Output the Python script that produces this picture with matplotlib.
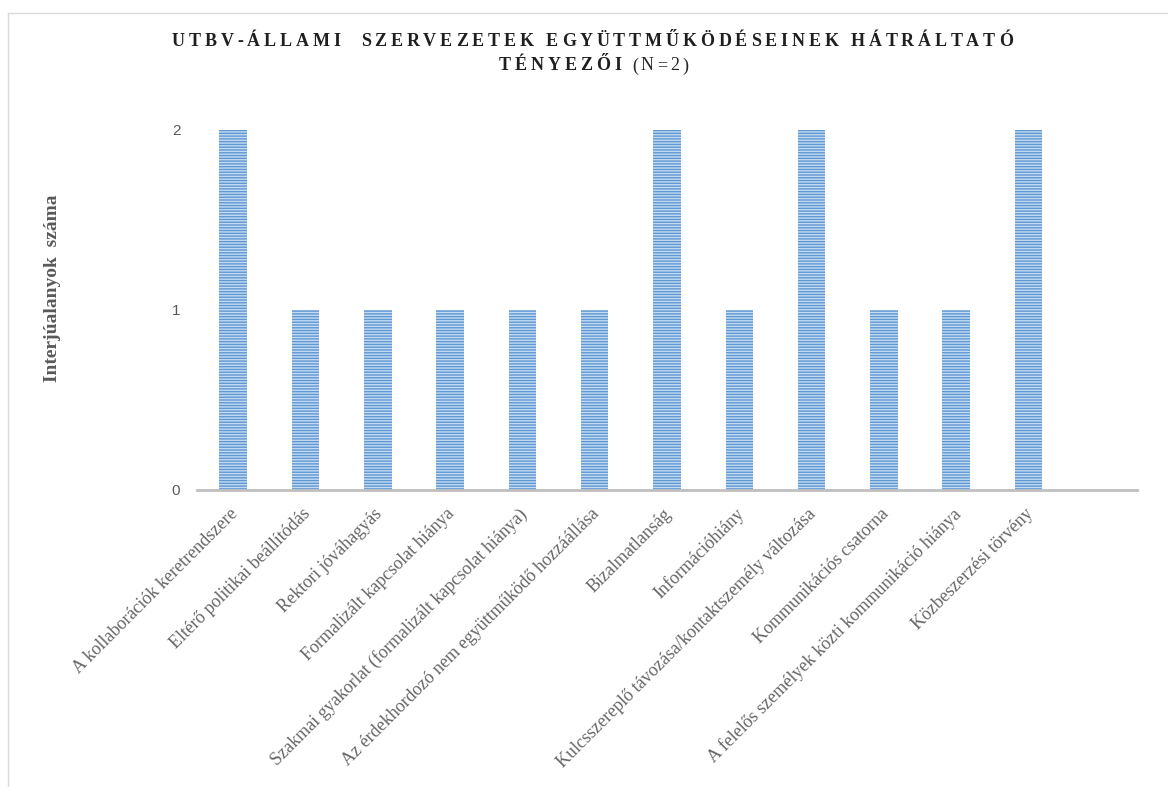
import matplotlib
matplotlib.use("Agg")
import matplotlib.pyplot as plt
from matplotlib.lines import Line2D
from matplotlib.transforms import ScaledTranslation

categories = [
    "A kollaborációk keretrendszere",
    "Eltérő politikai beállítódás",
    "Rektori jóváhagyás",
    "Formalizált kapcsolat hiánya",
    "Szakmai gyakorlat (formalizált kapcsolat hiánya)",
    "Az érdekhordozó nem együttműködő hozzáállása",
    "Bizalmatlanság",
    "Információhiány",
    "Kulcsszereplő távozása/kontaktszemély változása",
    "Kommunikációs csatorna",
    "A felelős személyek közti kommunikáció hiánya",
    "Közbeszerzési törvény",
]
values = [2, 1, 1, 1, 1, 1, 2, 1, 2, 1, 1, 2]
yticks = [0, 1, 2]
title_line1 = "UTBV-ÁLLAMI  SZERVEZETEK EGYÜTTMŰKÖDÉSEINEK HÁTRÁLTATÓ"
title_line2a = "TÉNYEZŐI"
title_line2b = "(N=2)"
ylabel = "Interjúalanyok  száma"

W, H = 1168, 787
fig = plt.figure(figsize=(W / 100, H / 100), dpi=100)
ax = fig.add_axes([197 / W, 1 - 490 / H, (1137 - 197) / W, (490 - 130) / H])

x = list(range(len(categories)))
plt.rcParams['hatch.linewidth'] = 1.0
ax.bar(x, values, width=0.38, color="#5f97d3", edgecolor="#c3dbf2",
       hatch="------", linewidth=0)
ax.set_xlim(-0.5, len(categories) + 0.5)
ax.set_ylim(0, 2)
ax.set_yticks(yticks)
ax.set_yticklabels([str(v) for v in yticks], fontsize=11, color="#595959",
                   family="Liberation Sans")
ax.tick_params(axis="y", length=0, pad=12)
ax.tick_params(axis="x", length=0, pad=11)
ax.set_xticks(x)
ax.set_xticklabels(categories, rotation=45, ha="right", va="top",
                   rotation_mode="anchor", fontsize=13, color="#666666",
                   family="Liberation Serif")
off = ScaledTranslation(-4 / 100, 0, fig.dpi_scale_trans)
for lab in ax.get_xticklabels():
    lab.set_transform(lab.get_transform() + off)
for s in ["top", "right", "left"]:
    ax.spines[s].set_visible(False)
ax.spines["bottom"].set_color("#bfbfbf")
ax.spines["bottom"].set_linewidth(2)

fig.text(53 / W, 1 - 288 / H, ylabel, rotation=90, ha="center", va="center",
         fontsize=14, fontweight="bold", color="#595959",
         family="Liberation Serif")

renderer = fig.canvas.get_renderer()


def char_width(ch, props):
    t1 = fig.text(0, 0, "|" + ch + "|", **props)
    t2 = fig.text(0, 0, "||", **props)
    w = t1.get_window_extent(renderer).width - t2.get_window_extent(renderer).width
    t1.remove()
    t2.remove()
    return w


def tracked(s, x0, y, props, tracking=None, width=None):
    ws = [char_width(c, props) for c in s]
    if tracking is None:
        tracking = (width - sum(ws)) / (len(s) - 1)
    xc = x0
    for c, w in zip(s, ws):
        if c != " ":
            fig.text(xc / W, 1 - y / H, c, ha="left", va="baseline", **props)
        xc += w + tracking
    return tracking


bold = dict(fontsize=13, fontweight="bold", family="Liberation Serif", color="#1f1f1f")
reg = dict(fontsize=13, family="Liberation Serif", color="#262626")
tr = tracked(title_line1, 172, 46.5, bold, width=1013 - 172)
tracked(title_line2a, 499, 70.5, bold, tracking=tr)
tracked(title_line2b, 632, 70.5, reg, width=688 - 632)

# frame lines
fig.add_artist(Line2D([8 / W, 1.0], [1 - 13 / H, 1 - 13 / H], transform=fig.transFigure,
                      color="#d9d9d9", linewidth=1))
fig.add_artist(Line2D([8 / W, 8 / W], [0, 1 - 13 / H], transform=fig.transFigure,
                      color="#d9d9d9", linewidth=1))

fig.savefig("out.png", dpi=100)
